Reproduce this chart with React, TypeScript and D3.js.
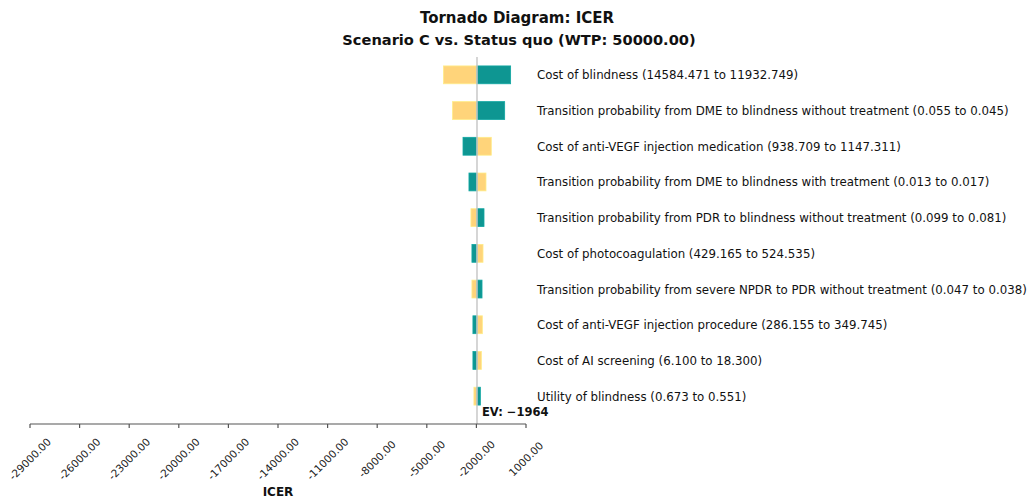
import * as d3 from 'd3';

// parameter labels, top to bottom
const labels = [
  'Cost of blindness (14584.471 to 11932.749)',
  'Transition probability from DME to blindness without treatment (0.055 to 0.045)',
  'Cost of anti-VEGF injection medication (938.709 to 1147.311)',
  'Transition probability from DME to blindness with treatment (0.013 to 0.017)',
  'Transition probability from PDR to blindness without treatment (0.099 to 0.081)',
  'Cost of photocoagulation (429.165 to 524.535)',
  'Transition probability from severe NPDR to PDR without treatment (0.047 to 0.038)',
  'Cost of anti-VEGF injection procedure (286.155 to 349.745)',
  'Cost of AI screening (6.100 to 18.300)',
  'Utility of blindness (0.673 to 0.551)',
];

// ICER at each end of the range (yellow / teal)
const yellowValues = [-3990, -3440, -1100, -1420, -2330, -1600, -2270, -1640, -1700, -2150];
const tealValues = [70, -290, -2810, -2450, -1540, -2270, -1660, -2210, -2210, -1760];

const tickValues = [-29000, -26000, -23000, -20000, -17000, -14000, -11000, -8000, -5000, -2000, 1000];
const ev = -1964;

const W = 1031;
const H = 498;
const YELLOW = '#ffd47a';
const TEAL = '#0e9692';
const font = '"DejaVu Sans", Verdana, sans-serif';

export default function App() {
  const x = d3.scaleLinear().domain([-29000, 1000]).range([30, 526]);
  const y = d3
    .scaleBand<string>()
    .domain(labels)
    .range([57, 414])
    .paddingInner(0.5)
    .paddingOuter(0.25);
  const axisY = 424;

  return (
    <svg
      width={W}
      height={H}
      style={{ position: 'absolute', left: 0, top: 0, fontFamily: font }}
    >
      <text x={517} y={23} textAnchor="middle" fontSize={15} fontWeight="bold" fill="#111">
        Tornado Diagram: ICER
      </text>
      <text x={519} y={45} textAnchor="middle" fontSize={14.6} fontWeight="bold" fill="#111">
        Scenario C vs. Status quo (WTP: 50000.00)
      </text>

      {/* bars */}
      {labels.map((l, i) => {
        const y0 = y(l)!;
        const bh = y.bandwidth();
        const bars = [
          { v: yellowValues[i], c: YELLOW },
          { v: tealValues[i], c: TEAL },
        ];
        return (
          <g key={l}>
            {bars.map((b, j) => (
              <rect
                key={j}
                x={Math.min(x(b.v), x(ev))}
                y={y0}
                width={Math.abs(x(b.v) - x(ev))}
                height={bh}
                fill={b.c}
                stroke={d3.color(b.c)!.brighter(0.3).toString()}
                strokeWidth={0.8}
              />
            ))}
            <text x={537} y={y0 + bh / 2 + 4.5} fontSize={11.8} fill="#111">
              {l}
            </text>
          </g>
        );
      })}

      {/* EV line */}
      <line x1={x(ev)} x2={x(ev)} y1={57} y2={axisY} stroke="#c8c8c8" strokeWidth={1.5} />
      <text x={x(ev) + 5} y={416} fontSize={11.5} fontWeight="bold" fill="#111">
        {`EV: \u2212${Math.abs(ev)}`}
      </text>

      {/* x axis */}
      <line x1={x(-29000)} x2={x(1000)} y1={axisY} y2={axisY} stroke="#555" strokeWidth={1.2} />
      {tickValues.map((t) => (
        <g key={t}>
          <line x1={x(t)} x2={x(t)} y1={axisY} y2={axisY + 4} stroke="#555" strokeWidth={1.2} />
          <text
            transform={`translate(${x(t)},${459}) rotate(-45)`}
            textAnchor="middle"
            dy="0.35em"
            fontSize={10.5}
            fill="#222"
          >
            {d3.format('.2f')(t).replace('−', '-')}
          </text>
        </g>
      ))}
      <text x={(x(-29000) + x(1000)) / 2} y={496} textAnchor="middle" fontSize={12} fontWeight="bold" fill="#111">
        ICER
      </text>
    </svg>
  );
}
